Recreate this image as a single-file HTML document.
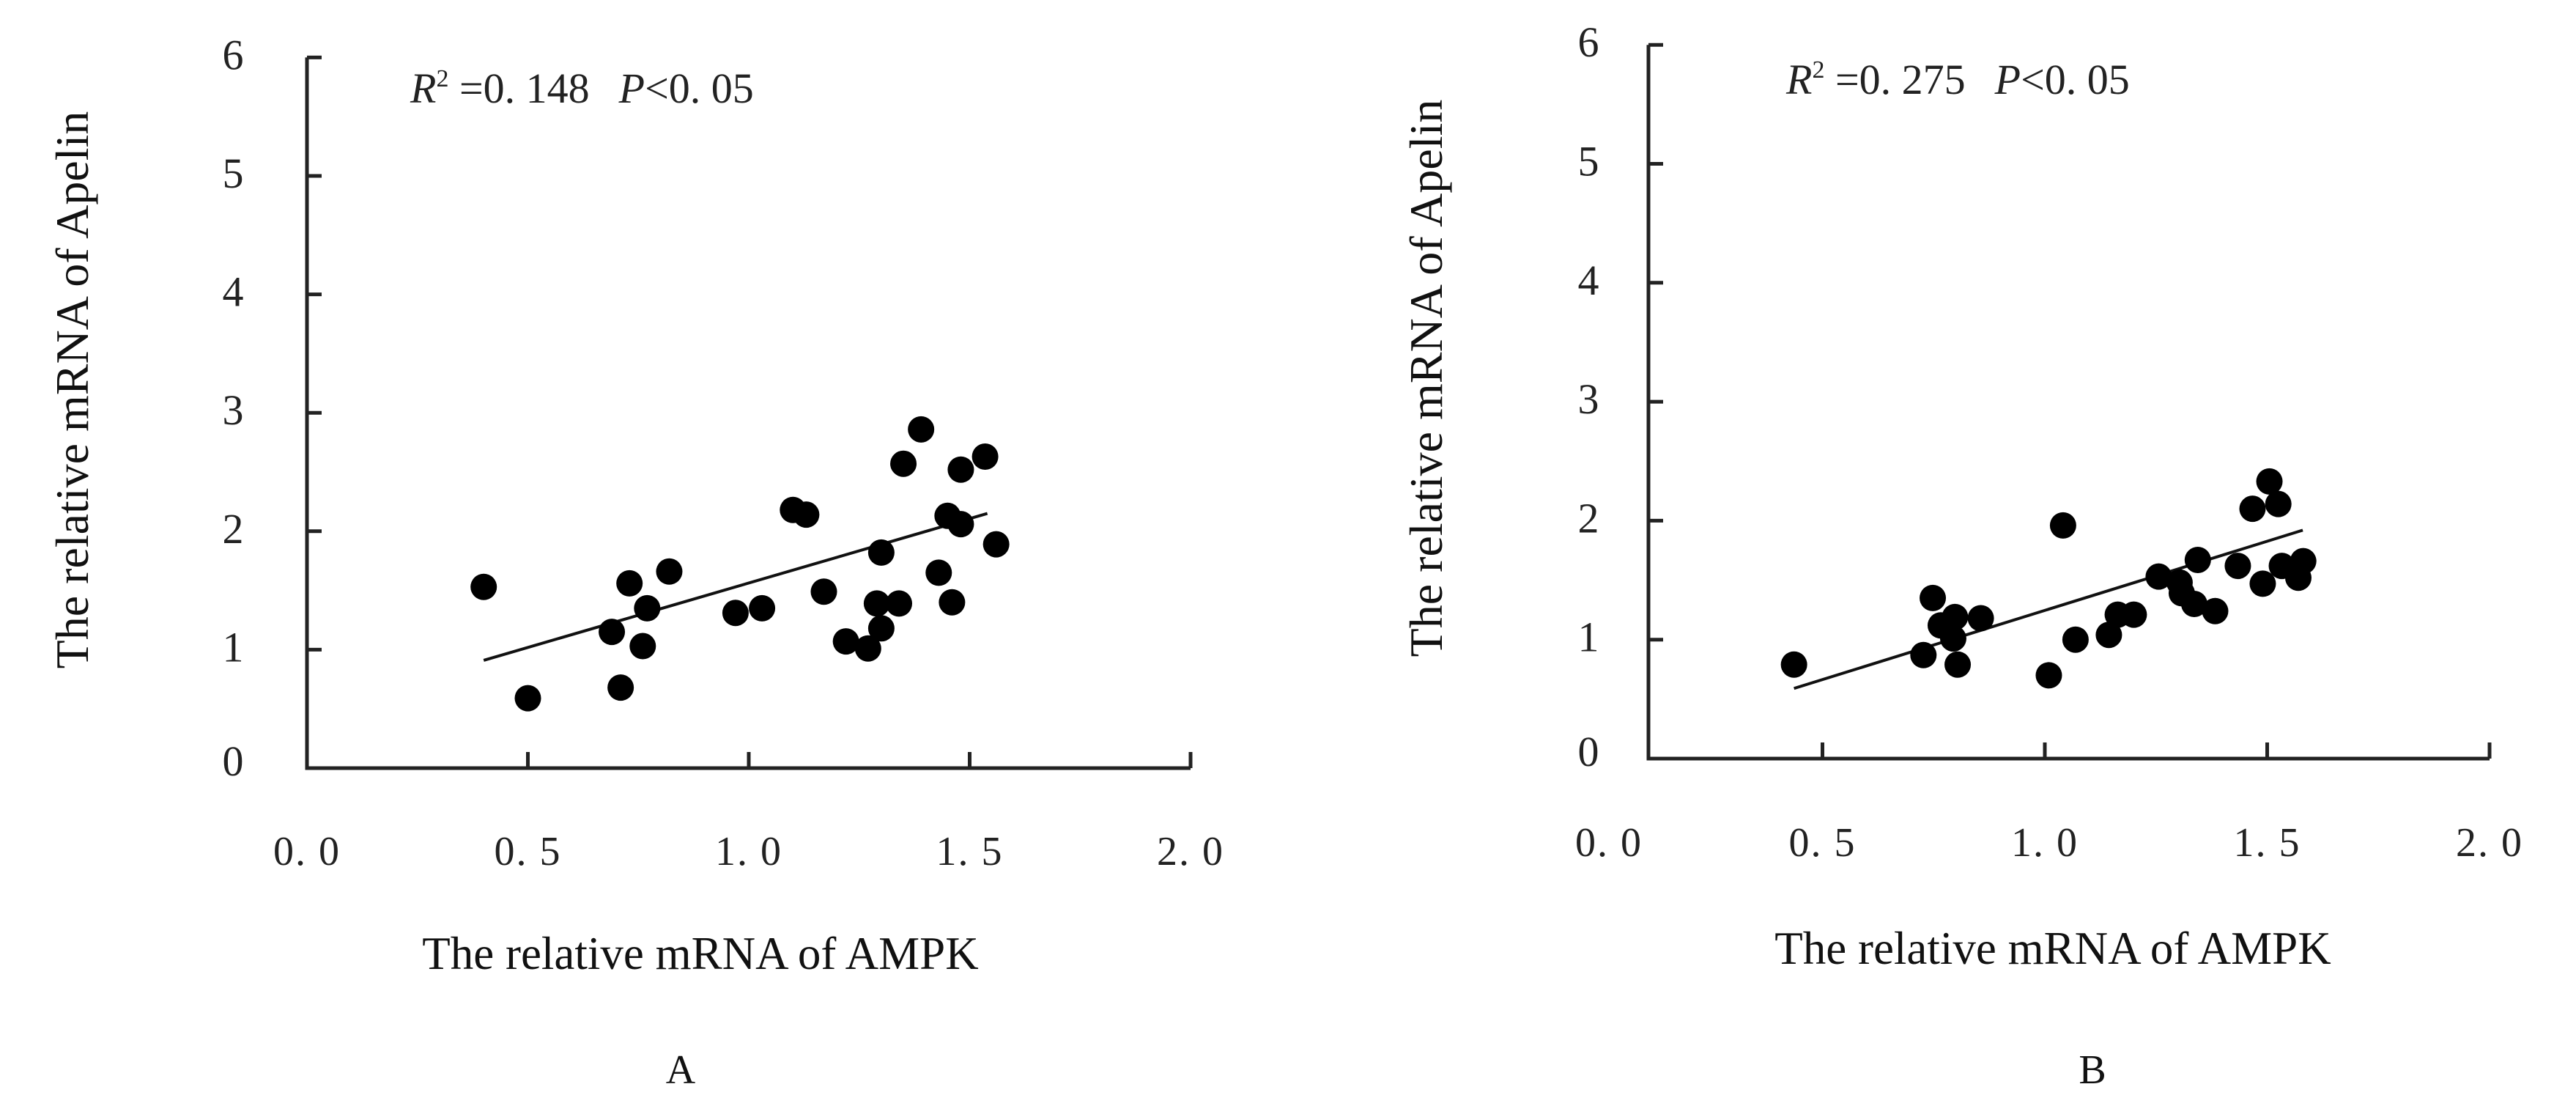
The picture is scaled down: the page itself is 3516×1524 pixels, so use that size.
<!DOCTYPE html>
<html><head><meta charset="utf-8"><style>
html,body{margin:0;padding:0;background:#fff;}
svg{display:block;font-family:"Liberation Serif","Noto Serif CJK SC",serif;}
</style></head><body>
<svg id="chart" width="3516" height="1524" viewBox="0 0 3516 1524" xmlns="http://www.w3.org/2000/svg"></svg>
<script>
const yTicks=[0,1,2,3,4,5,6];
const xTicks=[0,0.5,1.0,1.5,2.0];
const xTickLabels=["0. 0","0. 5","1. 0","1. 5","2. 0"];
const aX=[0.40,0.50,0.69,0.73,0.71,0.76,0.77,0.82,0.97,1.03,1.10,1.13,1.17,1.22,1.27,1.30,1.29,1.30,1.34,1.35,1.39,1.43,1.45,1.46,1.48,1.48,1.535,1.56];
const aY=[1.53,0.59,1.15,1.56,0.68,1.03,1.35,1.66,1.31,1.35,2.18,2.14,1.49,1.07,1.01,1.18,1.39,1.82,1.39,2.57,2.86,1.65,2.13,1.40,2.06,2.52,2.63,1.89];
const aLine=[[0.40,0.91],[1.54,2.15]];
const bX=[0.436,0.727,0.748,0.766,0.798,0.794,0.804,0.856,1.009,1.041,1.069,1.144,1.164,1.20,1.256,1.303,1.308,1.336,1.344,1.383,1.434,1.467,1.49,1.505,1.525,1.533,1.57,1.581];
const bY=[0.79,0.87,1.35,1.12,1.19,1.01,0.79,1.18,0.70,1.96,1.00,1.04,1.21,1.21,1.53,1.48,1.39,1.30,1.67,1.24,1.62,2.10,1.47,2.33,2.14,1.62,1.52,1.66];
const bLine=[[0.436,0.59],[1.58,1.92]];
const NS="http://www.w3.org/2000/svg";
const svg=document.getElementById('chart');
function mk(tag,attrs,parent){const e=document.createElementNS(NS,tag);for(const k in attrs)e.setAttribute(k,attrs[k]);(parent||svg).appendChild(e);return e;}
function panel(cfg){
  const g=mk('g',{});
  
  
  const sx=v=>cfg.x0+v*cfg.xu, sy=v=>cfg.y0-v*cfg.yu;
  const ax=mk('path',{d:`M${cfg.axX},${sy(6)} L${cfg.axX},${cfg.y0} L${sx(2)},${cfg.y0}`,fill:'none',stroke:'#222','stroke-width':5},g);
  
  
  yTicks.forEach(t=>{
    const l=mk('line',{x1:cfg.axX,x2:cfg.axX+20,y1:sy(t),y2:sy(t),stroke:'#222','stroke-width':5},g);
    
    
    const tx=mk('text',{x:cfg.yLabX,y:sy(t)+16-(t===0?6:0),'font-size':58,'text-anchor':'middle',fill:'#222'},g);
    tx.textContent=t;
    
    
  });
  xTicks.forEach((t,i)=>{
    if(t>0){const l=mk('line',{x1:sx(t),x2:sx(t),y1:cfg.y0,y2:cfg.y0-22,stroke:'#222','stroke-width':5},g);
    
    }
    const tx=mk('text',{x:sx(t)+(t===0?cfg.zeroShift:0),y:cfg.xLabY,'font-size':56,'text-anchor':'middle',fill:'#222','letter-spacing':'2'},g);
    tx.textContent=xTickLabels[i];
    
    
  });
  const ln=mk('line',{x1:sx(cfg.line[0][0]),y1:sy(cfg.line[0][1]),x2:sx(cfg.line[1][0]),y2:sy(cfg.line[1][1]),stroke:'#111','stroke-width':4},g);
  
  
  cfg.xs.forEach((v,i)=>{
    const c=mk('circle',{cx:sx(v),cy:sy(cfg.ys[i]),r:18,fill:'#000'},g);
    
    
  });
  const an=mk('text',{x:cfg.annX,y:cfg.annY,'font-size':58,fill:'#222'},g);
  an.innerHTML=`<tspan font-style="italic">R</tspan><tspan font-size="34" dy="-22">2</tspan><tspan dy="22"> =0. ${cfg.r2}</tspan><tspan dx="40" font-style="italic">P</tspan><tspan>&lt;0. 05</tspan>`;
  
  
  const xt=mk('text',{x:cfg.xtX,y:cfg.xtY,'font-size':63,'text-anchor':'middle',fill:'#111'},g);
  xt.textContent='The relative mRNA of AMPK';
  
  
  const yt=mk('text',{x:0,y:0,'font-size':64,'text-anchor':'middle',fill:'#111',transform:`translate(${cfg.ytX},${cfg.ytY}) rotate(-90)`},g);
  yt.textContent='The relative mRNA of Apelin';
  
  
  const pl=mk('text',{x:cfg.plX,y:1478,'font-size':56,'text-anchor':'middle',fill:'#111'},g);
  pl.textContent=cfg.id;
  
  
}
panel({id:'A',x0:419,xu:603,axX:419,y0:1048,yu:161.6,yLabX:318,xLabY:1180,zeroShift:0,line:aLine,xs:aX,ys:aY,r2:'148',annX:560,annY:140,xtX:956,xtY:1322,ytX:120,ytY:532,plX:929});
panel({id:'B',x0:2184,xu:607,axX:2250,y0:1035,yu:162.3,yLabX:2168,xLabY:1168,zeroShift:12,line:bLine,xs:bX,ys:bY,r2:'275',annX:2438,annY:128,xtX:2802,xtY:1315,ytX:1968,ytY:516,plX:2856});
</script>
</body></html>
